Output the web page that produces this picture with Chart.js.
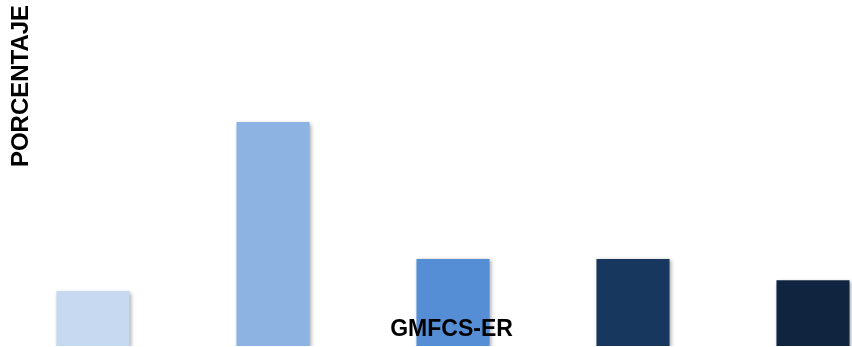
<!DOCTYPE html>
<html>
<head>
<meta charset="utf-8">
<script src="https://cdn.jsdelivr.net/npm/chart.js@4/dist/chart.umd.min.js"></script>
<style>
  html, body { margin: 0; padding: 0; background: #fff; overflow: hidden; }
  body { width: 852px; height: 347px; position: relative; }
  #wrap { position: absolute; left: 3px; top: 0; width: 900px; height: 347px; }
</style>
</head>
<body>
<div id="wrap"><canvas id="chart"></canvas></div>
<script>
// GMFCS-ER levels and their share of cases (%)
const levels = ['I', 'II', 'III', 'IV', 'V'];
const percentages = [10.6, 43.2, 16.8, 16.8, 12.7];
const barColors = ['#C6D9F1', '#8DB3E2', '#558ED5', '#17375E', '#10243F'];
const yTitle = 'PORCENTAJE';
const xTitle = 'GMFCS-ER';

// Soft drop shadow under the bars
const barShadow = {
  id: 'barShadow',
  beforeDatasetsDraw(chart) {
    const ctx = chart.ctx;
    ctx.save();
    ctx.shadowColor = 'rgba(0,0,0,0.35)';
    ctx.shadowBlur = 4;
    ctx.shadowOffsetX = 1.5;
    ctx.shadowOffsetY = 1.5;
  },
  afterDatasetsDraw(chart) {
    chart.ctx.restore();
  }
};

// Axis titles drawn over the plot
const axisTitles = {
  id: 'axisTitles',
  afterDraw(chart) {
    const ctx = chart.ctx;
    ctx.save();
    ctx.fillStyle = '#000';
    ctx.font = 'bold 24px "Liberation Sans", Arial, sans-serif';
    ctx.textAlign = 'center';
    ctx.textBaseline = 'middle';
    ctx.translate(18.5, 86);
    ctx.rotate(-Math.PI / 2);
    ctx.fillText(yTitle, 0, 0);
    ctx.restore();

    ctx.save();
    ctx.fillStyle = '#000';
    ctx.font = 'bold 23px "Liberation Sans", Arial, sans-serif';
    ctx.textAlign = 'center';
    ctx.textBaseline = 'middle';
    ctx.fillText(xTitle, 448.5, 329.5);
    ctx.restore();
  }
};

new Chart(document.getElementById('chart'), {
  type: 'bar',
  data: {
    labels: levels,
    datasets: [{
      data: percentages,
      backgroundColor: barColors,
      borderWidth: 0,
      categoryPercentage: 1,
      barPercentage: 0.406
    }]
  },
  options: {
    responsive: true,
    maintainAspectRatio: false,
    animation: false,
    layout: { padding: { top: 35, bottom: 1, left: 0, right: 0 } },
    plugins: {
      legend: { display: false },
      tooltip: { enabled: false }
    },
    scales: {
      x: { display: false },
      y: { display: false, min: 0, max: 60 }
    }
  },
  plugins: [barShadow, axisTitles]
});
</script>
</body>
</html>
